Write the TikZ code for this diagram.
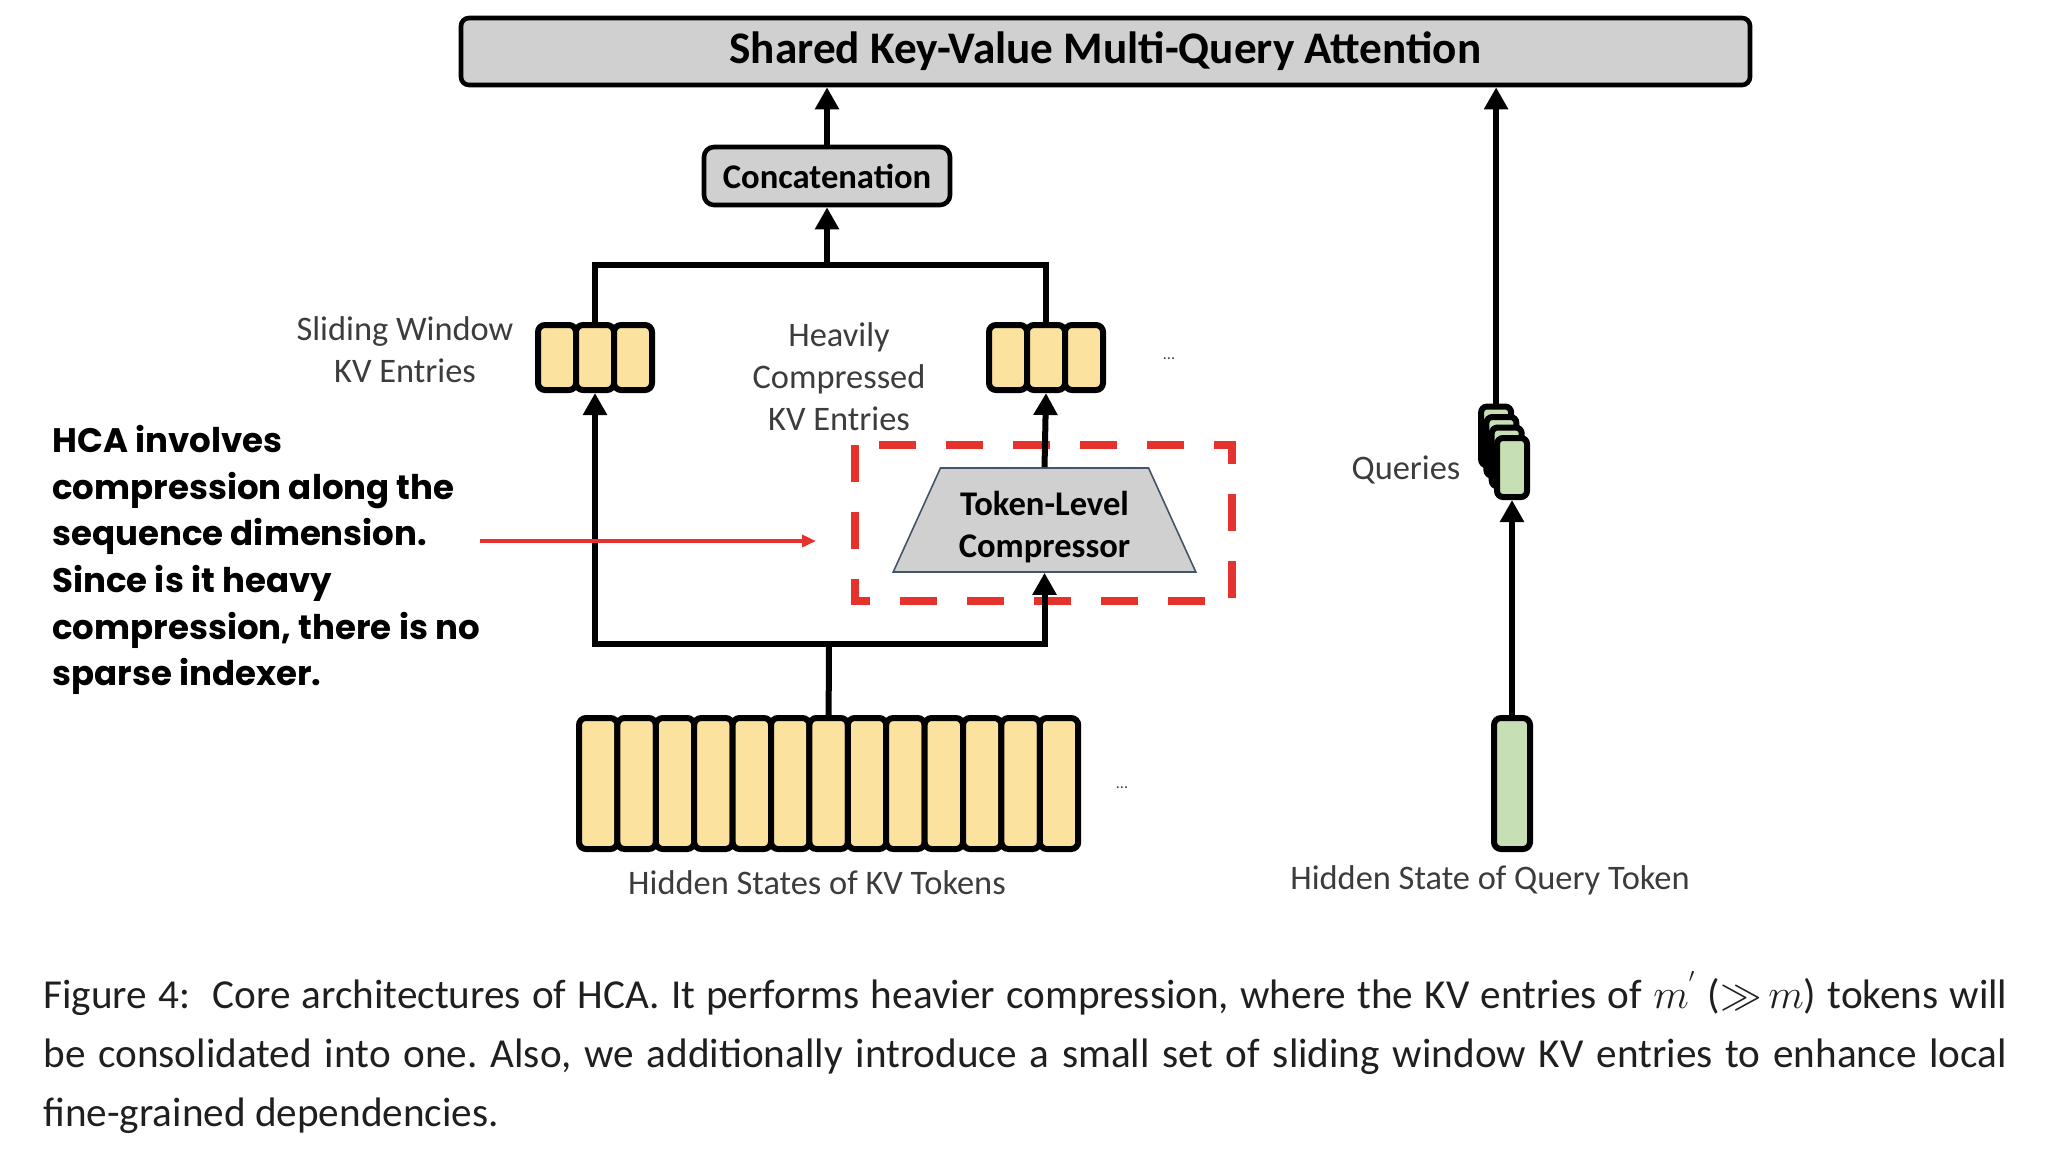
\documentclass[tikz,border=0pt]{standalone}
\usepackage{fontspec}
\setmainfont{Carlito}
\newfontfamily\notefont{Poppins}
\usetikzlibrary{arrows.meta, positioning, shapes.geometric}

\definecolor{boxgray}{HTML}{D0D0D0}
\definecolor{kvyellow}{HTML}{FBE29F}
\definecolor{qgreen}{HTML}{C6DFB4}
\definecolor{hlred}{HTML}{E5322D}
\definecolor{labelgray}{HTML}{3C3C3C}
\definecolor{trapline}{HTML}{44546A}

\tikzset{
  graybox/.style={draw=black, line width=2.3pt, fill=boxgray, rounded corners=4pt, inner sep=0pt},
  kvcell/.style={draw=black, line width=3pt, fill=kvyellow, rounded corners=3.5pt, minimum width=19.2pt, inner sep=0pt},
  qcell/.style={kvcell, fill=qgreen},
  wire/.style={line width=3pt},
  arr/.style={wire, -{Triangle[length=11pt,width=11.5pt]}},
  hlarr/.style={hlred, line width=2pt, -{Triangle[length=7pt,width=6pt]}},
  lbl/.style={text=labelgray, font=\fontsize{17.2}{21}\selectfont, align=center},
}

\begin{document}
\begin{tikzpicture}[x=0.5pt, y=-0.5pt]
    \useasboundingbox (0,0) rectangle (2048,1152);

    % ============================================================
    % ATTENTION AND CONCATENATION
    % ============================================================
    \node[graybox, minimum width=644.5pt, minimum height=33.5pt,
        font=\bfseries\fontsize{22.6}{26}\selectfont] (attn) at (1105.5,51.5)
        {Shared Key-Value Multi-Query Attention};
    \node[graybox, rounded corners=5pt, minimum width=123pt, minimum height=29pt,
        font=\bfseries\fontsize{17.3}{21}\selectfont] (concat) at (827,176)
        {Concatenation};

    % ============================================================
    % KV ENTRIES
    % ============================================================
    \foreach \i in {0,1,2} {
        \node[kvcell, minimum width=19pt, minimum height=32.5pt] (sw\i) at (557+38*\i,357.5) {};
        \node[kvcell, minimum width=19pt, minimum height=32.5pt] (hc\i) at (1008+38*\i,357.5) {};
    }
    \node[text=labelgray, font=\fontsize{8}{8}\selectfont] (hcdots) at (1169,359) {...};

    % ============================================================
    % HIDDEN STATES OF KV TOKENS
    % ============================================================
    \foreach \i in {0,...,12}
        \node[kvcell, minimum height=65.5pt] (hs\i) at (598.2+38.4*\i,783.5) {};
    \node[text=labelgray, font=\fontsize{8}{8}\selectfont] (hsdots) at (1122,788) {...};

    % ============================================================
    % COMPRESSOR
    % ============================================================
    \node[trapezium, trapezium angle=65.5, trapezium stretches=true,
        minimum width=151.5pt, minimum height=52pt, draw=trapline, line width=0.8pt,
        fill=boxgray, inner sep=0pt, align=center,
        font=\bfseries\fontsize{17.3}{21}\selectfont] (comp) at (1044.5,520)
        {\rule{0pt}{19pt}Token-Level\\Compressor};
    \draw[hlred, line width=4pt, dash pattern=on 18.5pt off 15pt]
        (855,445) rectangle (1232,601);

    % ============================================================
    % QUERY SIDE
    % ============================================================
    \node[qcell, minimum width=18pt, minimum height=65.5pt] (qtok) at (1512,783.5) {};
    \foreach \i in {3,2,1,0}
        \node[qcell, rounded corners=3pt, minimum width=15pt, minimum height=29.5pt]
            (q\i) at (1512-5.3*\i,467.5-10.5*\i) {};

    % ============================================================
    % CONNECTORS
    % ============================================================
    \coordinate (botbus) at (829,644);
    \coordinate (topbus) at (827,265);
    \draw[wire] (hs6.north) -- (botbus);
    \draw[arr] (botbus) -| (sw1.south);
    \draw[arr] (botbus) -| (comp.south);
    \draw[arr] (comp.north) -- (hc1.south);
    \draw[wire] (sw1.north) |- (topbus);
    \draw[wire] (hc1.north) |- (topbus);
    \draw[arr] (topbus) -- (concat.south);
    \draw[arr] (concat.north) -- (concat.north |- attn.south);
    \draw[arr] (qtok.north) -- (q0.south);
    \draw[arr] (q3.north) -- (q3.north |- attn.south);

    % Labels
    \node[lbl] (swlbl) at (405,350) {Sliding Window\\KV Entries};
    \node[lbl] (hclbl) at (839,377) {Heavily\\Compressed\\KV Entries};
    \node[lbl] (qlbl) at (1406,470) {Queries};
    \node[lbl] (hslbl) at (817,883) {Hidden States of KV Tokens};
    \node[lbl] (qtlbl) at (1490,880) {Hidden State of Query Token};

    % ============================================================
    % ANNOTATION
    % ============================================================
    \node[anchor=north west, inner sep=0pt, align=left,
        font=\notefont\bfseries\fontsize{17}{23.3}\selectfont] (note) at (52,425)
        {HCA involves\\compression along the\\sequence dimension.\\Since is it heavy\\compression, there is no\\sparse indexer.};
    \coordinate (notetip) at (816,541);
    \draw[hlarr] (note.east |- notetip) -- (notetip);

    % ============================================================
    % CAPTION
    % ============================================================
    \node[anchor=north west, inner sep=0pt, text width=982pt, align=justify,
        text=black!88, font=\frenchspacing\fontsize{20.6}{29.5}\selectfont] (caption) at (43,971)
        {Figure 4:\ \ Core architectures of HCA. It performs heavier compression, where the KV entries of $m^{'}$ (${\gg}\,m$) tokens will\linebreak
        be consolidated into one. Also, we additionally introduce a small set of sliding window KV entries to enhance local\linebreak
        fine-grained dependencies.};

\end{tikzpicture}
\end{document}
